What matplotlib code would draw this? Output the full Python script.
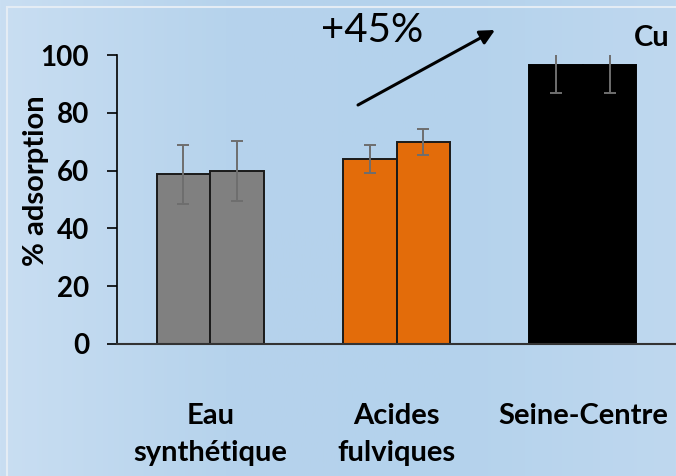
import numpy as np
import matplotlib.pyplot as plt
from matplotlib.colors import LinearSegmentedColormap
from matplotlib.patches import Rectangle

# ---- data ----
categories = ["Eau\nsynthétique", "Acides\nfulviques", "Seine-Centre"]
values_a = [58.8, 64.1, 96.6]
values_b = [60.0, 69.9, 96.6]
err_a = [10.2, 4.9, 9.8]
err_b = [10.4, 4.6, 9.8]
colors = ["#808080", "#e36c0a", "#000000"]
edges = ["#1a1a1a", "#1a1a1a", "#000000"]

plt.rcParams['font.family'] = ['Lato', 'DejaVu Sans']

fig = plt.figure(figsize=(6.76, 4.76), dpi=100)

# background gradient
bg = fig.add_axes([0, 0, 1, 1], zorder=-10)
grad = np.linspace(0, 1, 256).reshape(1, -1)
cmap = LinearSegmentedColormap.from_list("bg", ["#c9def2", "#b6d3ec", "#b4d2ec", "#bfd8ef"])
bg.imshow(grad, aspect="auto", cmap=cmap, extent=[0, 1, 0, 1])
bg.add_patch(Rectangle((7 / 676, -0.1), 1.2, (476 - 7) / 476 + 0.1, fill=False,
                       edgecolor="#e4ecf4", lw=1.5))
bg.set_xlim(0, 1)
bg.set_ylim(0, 1)
bg.axis("off")

ax = fig.add_axes([117 / 676, (476 - 344) / 476, 1 - 117 / 676, (344 - 55) / 476])
ax.patch.set_alpha(0)

x = np.arange(len(categories))
w = 0.288
ax.bar(x - w / 2, values_a, w, color=colors, edgecolor=edges, linewidth=1.4, zorder=2)
ax.bar(x + w / 2, values_b, w, color=colors, edgecolor=edges, linewidth=1.4, zorder=2)
ax.errorbar(x - w / 2, values_a, yerr=err_a, fmt="none", ecolor="#6e6e6e",
            elinewidth=1.4, capsize=4.5, capthick=1.4, zorder=3)
ax.errorbar(x + w / 2, values_b, yerr=err_b, fmt="none", ecolor="#6e6e6e",
            elinewidth=1.4, capsize=4.5, capthick=1.4, zorder=3)

ax.set_xlim(-0.5, 2.5)
ax.set_ylim(0, 100)
ax.set_yticks([0, 20, 40, 60, 80, 100])
ax.tick_params(axis="y", direction="out", length=7, width=1.2, pad=13,
               labelsize=20)
for lab in ax.get_yticklabels():
    lab.set_fontweight("bold")
ax.set_xticks([])
for s in ["top", "right"]:
    ax.spines[s].set_visible(False)
ax.spines["left"].set_linewidth(1.2)
ax.spines["bottom"].set_linewidth(1.5)
ax.spines["bottom"].set_color("#333333")

ax.set_ylabel("% adsorption", fontsize=21, fontweight="bold")
ax.yaxis.set_label_coords((49 - 117) / (676 - 117), 0.564)

for xi, cat in zip(x, categories):
    ax.text(xi, -20.5, cat, ha="center", va="top", fontsize=21,
            fontweight="bold", linespacing=1.5, clip_on=False)

# annotation
fig.text(372 / 676, 1 - 30 / 476, "+45%", fontsize=29, ha="center", va="center")
ax.annotate("", xy=(495 / 676, 1 - 30 / 476), xytext=(358 / 676, 1 - 105 / 476),
            xycoords="figure fraction", textcoords="figure fraction",
            arrowprops=dict(arrowstyle="-|>", color="black", lw=2.2,
                            mutation_scale=22, shrinkA=0, shrinkB=0))
fig.text(634 / 676, 1 - 38 / 476, "Cu", fontsize=21, fontweight="bold",
         ha="left", va="center")

fig.savefig("out.png", dpi=100)
